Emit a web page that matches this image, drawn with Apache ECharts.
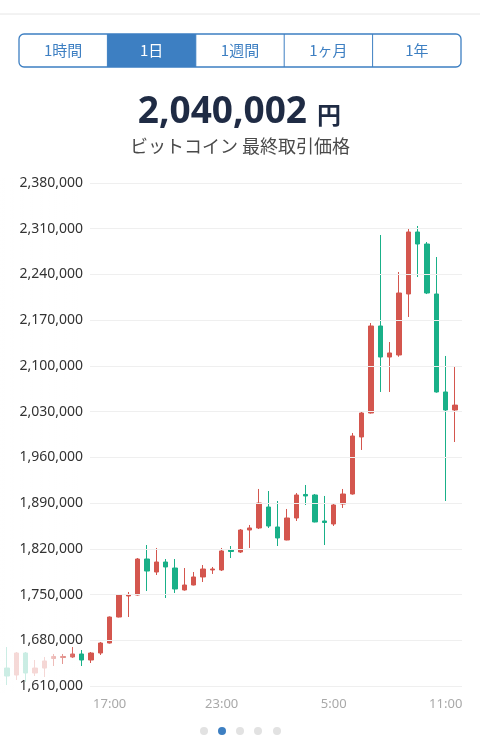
<!DOCTYPE html>
<html>
<head>
<meta charset="utf-8">
<style>
  html, body { margin: 0; padding: 0; background: #fff; }
  #chart { width: 480px; height: 741px; }
</style>
<script src="https://cdn.jsdelivr.net/npm/echarts@6/dist/echarts.min.js"></script>
</head>
<body>
<div id="chart"></div>
<script>
// 30分足 11:30 〜 翌11:30
const times = [
    '11:30', '12:00', '12:30', '13:00', '13:30', '14:00', '14:30', '15:00', '15:30', '16:00',
    '16:30', '17:00', '17:30', '18:00', '18:30', '19:00', '19:30', '20:00', '20:30', '21:00',
    '21:30', '22:00', '22:30', '23:00', '23:30', '0:00', '0:30', '1:00', '1:30', '2:00',
    '2:30', '3:00', '3:30', '4:00', '4:30', '5:00', '5:30', '6:00', '6:30', '7:00',
    '7:30', '8:00', '8:30', '9:00', '9:30', '10:00', '10:30', '11:00', '11:30'
];
const opens = [
    1637500, 1626800, 1660500, 1629900, 1637500, 1652100, 1653600, 1654400, 1659000, 1649800,
    1660500, 1675800, 1715600, 1747800, 1749300, 1804400, 1784500, 1799800, 1790600, 1757000,
    1764600, 1776900, 1787600, 1787600, 1818200, 1815100, 1848800, 1851900, 1884000, 1853400,
    1833500, 1867200, 1903200, 1902400, 1862600, 1858000, 1888600, 1903900, 1991200, 2027900,
    2161100, 2113600, 2116700, 2210100, 2305000, 2286600, 2210100, 2060100, 2032500
];
const closes = [
    1625300, 1660500, 1629900, 1637500, 1648300, 1655200, 1655200, 1659000, 1649800, 1660500,
    1675800, 1715600, 1749300, 1750100, 1804400, 1786000, 1799800, 1792200, 1758500, 1764600,
    1776900, 1789100, 1789100, 1816700, 1815900, 1848800, 1851900, 1890100, 1854900, 1836600,
    1867200, 1902400, 1900900, 1861100, 1860300, 1887100, 1903900, 1992700, 2027900, 2161100,
    2113600, 2119800, 2211600, 2305000, 2286600, 2211600, 2060100, 2032500, 2040002
];
const lows = [
    1611500, 1619200, 1616100, 1625300, 1623800, 1640600, 1643700, 1653000, 1640600, 1645200,
    1657500, 1675000, 1715000, 1715600, 1748500, 1755400, 1779900, 1744700, 1752400, 1756000,
    1764000, 1769200, 1781500, 1786000, 1805900, 1813600, 1821300, 1850300, 1851900, 1824300,
    1833000, 1862600, 1887100, 1860500, 1825800, 1855000, 1882500, 1903000, 1971300, 2027000,
    2060100, 2060100, 2114000, 2174900, 2236100, 2210000, 2059000, 1893200, 1983500
];
const highs = [
    1669700, 1662000, 1662000, 1649800, 1654400, 1659000, 1659000, 1669700, 1665100, 1662000,
    1677400, 1716500, 1750000, 1753900, 1805900, 1825800, 1821300, 1804400, 1804400, 1790600,
    1784500, 1795200, 1792200, 1821300, 1824300, 1850300, 1856500, 1911600, 1908500, 1893200,
    1881000, 1905400, 1917700, 1903900, 1900900, 1890100, 1911600, 1997300, 2029400, 2165700,
    2300400, 2136600, 2243800, 2311100, 2314200, 2289700, 2266700, 2115200, 2098300
];
const yMin = 1610000;
const yMax = 2380000;
const yStep = 70000;
const lastPrice = '2,040,002';
const ranges = ['1時間', '1日', '1週間', '1ヶ月', '1年'];
const activeRange = 1;

const upColor = '#d4564e';
const downColor = '#19b088';
const blue = '#3d7fc2';

const candles = opens.map((o, i) => [o, closes[i], lows[i], highs[i]]);

// 期間切り替えタブ
const tabLeft = 19, tabTop = 34, tabW = 442, tabH = 33;
const cellW = tabW / ranges.length;
const tabGraphics = [];
tabGraphics.push({
    type: 'rect', silent: true, z: 20,
    shape: { x: tabLeft + cellW * activeRange, y: tabTop, width: cellW, height: tabH },
    style: { fill: blue }
});
tabGraphics.push({
    type: 'rect', silent: true, z: 21,
    shape: { x: tabLeft, y: tabTop, width: tabW, height: tabH, r: 5 },
    style: { fill: null, stroke: blue, lineWidth: 1.3 }
});
ranges.forEach((name, i) => {
    if (i > 0) {
        tabGraphics.push({
            type: 'line', silent: true, z: 21,
            shape: { x1: tabLeft + cellW * i, y1: tabTop, x2: tabLeft + cellW * i, y2: tabTop + tabH },
            style: { stroke: blue, lineWidth: 1 }
        });
    }
    tabGraphics.push({
        type: 'text', silent: true, z: 22,
        x: tabLeft + cellW * (i + 0.5), y: tabTop + tabH / 2,
        style: {
            text: name, fill: i === activeRange ? '#fff' : blue,
            font: '15px "Noto Sans CJK JP", "Noto Sans"',
            textAlign: 'center', textVerticalAlign: 'middle'
        }
    });
});

// ページ送りの点
const dots = [];
[204, 222, 240, 258, 277].forEach((x, i) => {
    dots.push({
        type: 'circle', silent: true,
        shape: { cx: x, cy: 731, r: 4 },
        style: { fill: i === 1 ? blue : '#e2e2e2' }
    });
});

const chart = echarts.init(document.getElementById('chart'));
chart.setOption({
    animation: false,
    graphic: [
        {
            type: 'line', silent: true,
            shape: { x1: 0, y1: 14, x2: 480, y2: 14 },
            style: { stroke: '#e6e6e6', lineWidth: 1 }
        },
        ...tabGraphics,
        {
            type: 'text', silent: true,
            x: 307, y: 112,
            style: {
                text: lastPrice, fill: '#1f2b44',
                font: 'bold 37px "Noto Sans", sans-serif',
                textAlign: 'right', textVerticalAlign: 'middle'
            }
        },
        {
            type: 'text', silent: true,
            x: 317, y: 115,
            style: {
                text: '円', fill: '#1f2b44',
                font: 'bold 24px "Noto Sans CJK JP"',
                textAlign: 'left', textVerticalAlign: 'middle'
            }
        },
        {
            type: 'text', silent: true,
            x: 240, y: 146,
            style: {
                text: 'ビットコイン 最終取引価格', fill: '#4a4a4a',
                font: '18px "Noto Sans CJK JP"',
                textAlign: 'center', textVerticalAlign: 'middle'
            }
        },
        {
            // 軸ラベルの下のローソク足を薄くする
            type: 'rect', silent: true, z: 3,
            shape: { x: 0, y: 178, width: 82, height: 515 },
            style: {
                fill: {
                    type: 'linear', x: 0, y: 0, x2: 1, y2: 0,
                    colorStops: [
                        { offset: 0, color: 'rgba(255,255,255,0.78)' },
                        { offset: 0.58, color: 'rgba(255,255,255,0.76)' },
                        { offset: 0.95, color: 'rgba(255,255,255,0)' }
                    ]
                }
            }
        },
        ...dots
    ],
    grid: [
        { left: 2.3, right: 20.3, top: 183, bottom: 55 },
        { left: 90, right: 18, top: 183, bottom: 55 }
    ],
    xAxis: [
        {
            type: 'category',
            gridIndex: 0,
            data: times,
            axisLine: { show: false },
            axisTick: { show: false },
            axisLabel: {
                interval: (index) => (index - 11) % 12 === 0,
                color: '#a9a9a9',
                fontSize: 13,
                margin: 12,
                fontFamily: '"Noto Sans", sans-serif'
            },
            splitLine: { show: false }
        },
        {
            type: 'value',
            gridIndex: 1,
            show: false
        }
    ],
    yAxis: [
        {
            type: 'value',
            gridIndex: 0,
            min: yMin,
            max: yMax,
            show: false
        },
        {
            type: 'value',
            gridIndex: 1,
            min: yMin,
            max: yMax,
            interval: yStep,
            z: 10,
            axisLine: { show: false },
            axisTick: { show: false },
            axisLabel: {
                color: '#333',
                fontSize: 14,
                margin: 7,
                fontFamily: '"Noto Sans", sans-serif',
                formatter: (v) => v.toLocaleString('en-US')
            },
            splitLine: { lineStyle: { color: '#efefef', width: 1 } }
        }
    ],
    series: [{
        type: 'candlestick',
        xAxisIndex: 0,
        yAxisIndex: 0,
        data: candles,
        barWidth: 5,
        itemStyle: {
            color: upColor,
            color0: downColor,
            borderColor: upColor,
            borderColor0: downColor,
            borderWidth: 1
        }
    }]
});
</script>
</body>
</html>
